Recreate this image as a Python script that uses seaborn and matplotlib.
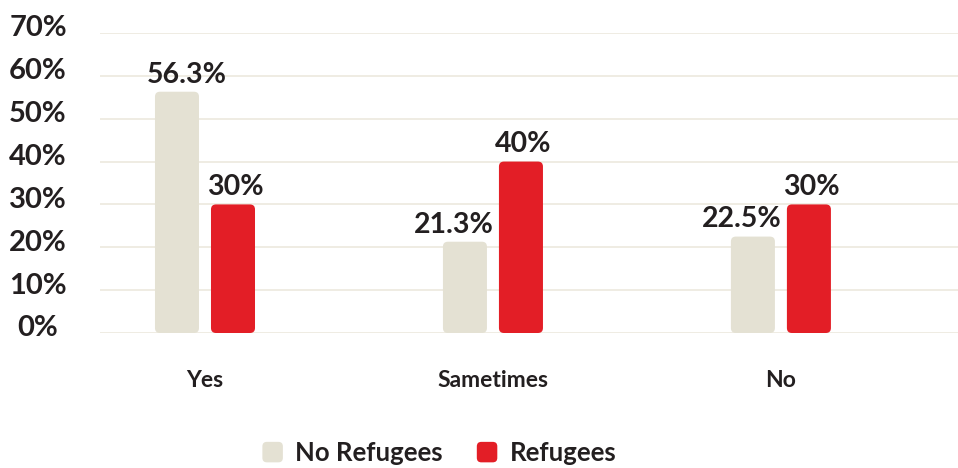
import matplotlib
matplotlib.use("Agg")
import matplotlib.pyplot as plt
import seaborn as sns
import pandas as pd
from matplotlib.patches import FancyBboxPatch, Rectangle
from matplotlib.legend_handler import HandlerPatch
from matplotlib.transforms import ScaledTranslation

# Survey answers by group
categories = ["Yes", "Sametimes", "No"]
groups = ["No Refugees", "Refugees"]
no_refugees = [56.3, 21.3, 22.5]
refugees = [30, 40, 30]
y_ticks = [0, 10, 20, 30, 40, 50, 60, 70]

BEIGE = "#e4e1d3"
RED = "#e31e26"
INK = "#231f20"
GRID = "#ece9de"

df = pd.DataFrame({
    "answer": categories * 2,
    "group": [groups[0]] * 3 + [groups[1]] * 3,
    "share": no_refugees + refugees,
})

sns.set_theme(style="white")
plt.rcParams["font.family"] = ["Lato", "DejaVu Sans"]

fig = plt.figure(figsize=(9.58, 4.68), dpi=100)
ax = fig.add_axes([100 / 958, 135 / 468, 858 / 958, 300 / 468])

sns.barplot(data=df, x="answer", y="share", hue="group", order=categories,
            hue_order=groups, palette=[BEIGE, RED], saturation=1, width=0.389, gap=0.214,
            dodge=True, ax=ax, errorbar=None, zorder=3)

ax.set_ylim(0, 70)
ax.set_xlim(-0.3646, 2.615)
ax.set_yticks(y_ticks)
ax.set_yticklabels([f"{v}%" for v in y_ticks])
ax.yaxis.grid(True, color=GRID, linewidth=1.2, zorder=0)
ax.set_axisbelow(True)
for s in ax.spines.values():
    s.set_visible(False)
ax.set_xlabel("")
ax.set_ylabel("")
ax.tick_params(axis="y", length=0, pad=44.6, labelsize=21, labelcolor=INK)
ax.tick_params(axis="x", length=0, pad=26.5, labelsize=16.5, labelcolor=INK)
for lab in ax.get_yticklabels():
    lab.set_horizontalalignment("center")
    lab.set_fontweight("bold")
    lab.set_transform(lab.get_transform() + ScaledTranslation(0, 7 / 100, fig.dpi_scale_trans))
for lab in ax.get_xticklabels():
    lab.set_fontweight("bold")

# Swap the square bars for rounded ones of the same size
fig.canvas.draw()
px_x = (ax.get_xlim()[1] - ax.get_xlim()[0]) / 858
px_y = (ax.get_ylim()[1] - ax.get_ylim()[0]) / 300
aspect = px_y / px_x
radius = 5 * px_x
label_sets = []
for cont in ax.containers:
    for bar in cont:
        bar.set_visible(False)
        rb = FancyBboxPatch((bar.get_x(), bar.get_y()), bar.get_width(), bar.get_height(),
                            boxstyle=f"round,pad=0,rounding_size={radius}",
                            mutation_aspect=aspect, facecolor=bar.get_facecolor(),
                            edgecolor="none", zorder=3, clip_on=False)
        ax.add_patch(rb)
    label_sets.append(ax.bar_label(cont, labels=[f"{v:g}%" for v in cont.datavalues],
                                   padding=3, fontsize=20.5, fontweight="bold", color=INK))

# Nudge the left-hand labels sideways so they clear the neighbouring bar (offsets in points)
for txt, mine, other in zip(label_sets[0], no_refugees, refugees):
    dx = 7 if mine > other else -8
    txt.xyann = (dx, txt.xyann[1])
for txt in label_sets[1]:
    txt.xyann = (1.5, txt.xyann[1])

handles, labels = ax.get_legend_handles_labels()
ax.legend_.remove()


class RoundHandler(HandlerPatch):
    def create_artists(self, legend, orig_handle, xdescent, ydescent, width, height, fontsize, trans):
        side = min(width, height)
        p = FancyBboxPatch((-xdescent + (width - side) / 2, -ydescent + (height - side) / 2),
                           side, side, boxstyle=f"round,pad=0,rounding_size={side * 0.22}",
                           facecolor=orig_handle.get_facecolor(), edgecolor="none",
                           transform=trans)
        return [p]


fig.legend(handles, labels, loc="center", bbox_to_anchor=(439 / 958, 1 - 453 / 468),
           ncol=2, frameon=False, handler_map={Rectangle: RoundHandler()},
           prop={"family": ["Lato", "DejaVu Sans"], "weight": "bold", "size": 18.5},
           handlelength=0.85, handleheight=0.85, handletextpad=0.45, columnspacing=1.3,
           labelcolor=INK)

fig.savefig("out.png", dpi=100)
